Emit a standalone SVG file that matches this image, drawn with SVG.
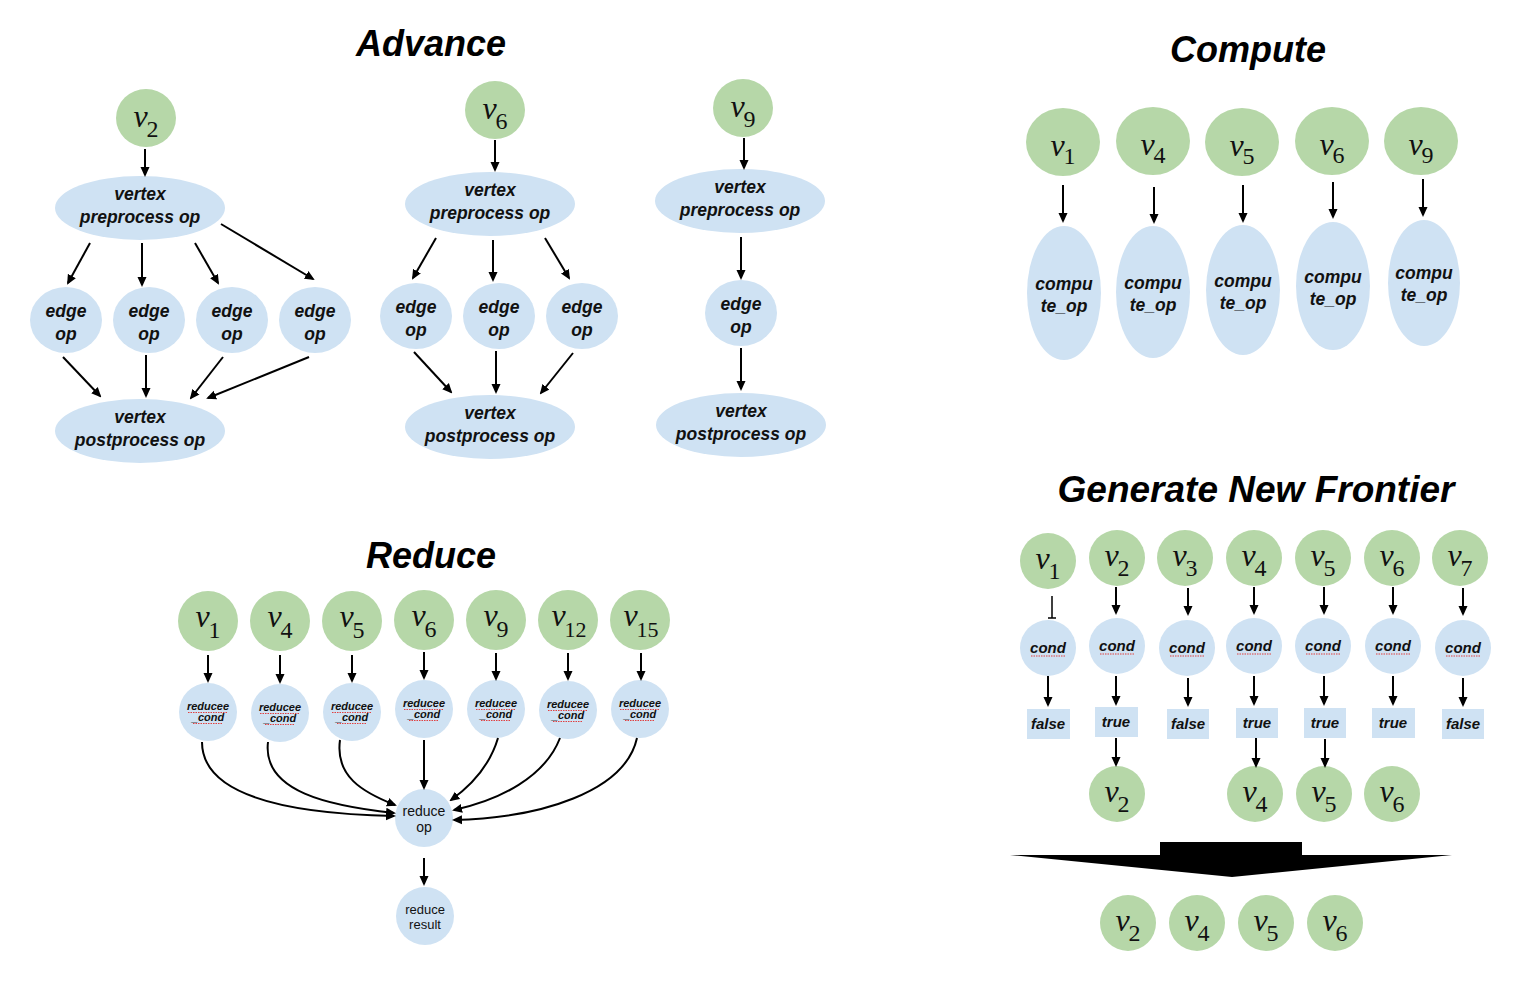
<svg xmlns="http://www.w3.org/2000/svg" width="1524" height="982" viewBox="0 0 1524 982">
<defs>
<marker id="ah" viewBox="0 0 10 10" refX="8" refY="5" markerWidth="10" markerHeight="10" markerUnits="userSpaceOnUse" orient="auto"><path d="M0,0.5 L10,5 L0,9.5 z" fill="#000"/></marker>
</defs>
<style>
.g{fill:#b6d7a8}
.b{fill:#cfe2f3}
.t{font-family:"Liberation Sans",Arial,sans-serif;font-weight:bold;font-style:italic;text-anchor:middle;fill:#111}
.ttl{font-size:36px;fill:#000}
.n18{font-size:17.5px}
.n15{font-size:15px}
.n11{font-size:11px}
.r{font-family:"Liberation Sans",Arial,sans-serif;text-anchor:middle;fill:#111}
.v{font-family:"Liberation Serif","Times New Roman",serif;font-style:italic;font-size:32px;text-anchor:middle;fill:#111}
.s{font-style:normal;font-size:24px}
.c path,.c line{stroke:#000;stroke-width:2;fill:none}
.c .a{marker-end:url(#ah)}
.sq{stroke:#e04040;stroke-width:1.2;stroke-dasharray:1.5 1;fill:none}
</style>
<rect width="1524" height="982" fill="#fff"/>

<!-- Titles -->
<text class="t ttl" x="431" y="56">Advance</text>
<text class="t ttl" x="1248" y="62">Compute</text>
<text class="t ttl" x="431" y="568">Reduce</text>
<text class="t ttl" x="1256" y="502" style="font-size:37px">Generate New Frontier</text>

<!-- ===== Advance: v2 ===== -->
<g id="adv-v2"><ellipse class="g" cx="146" cy="118" rx="30" ry="29"/><text class="v" x="146" y="127">v<tspan class="s" dx="-1" dy="10">2</tspan></text></g>
<g id="adv-v2-pre"><ellipse class="b" cx="140" cy="208" rx="85" ry="32"/><text class="t n18" x="140" y="200">vertex</text><text class="t n18" x="140" y="223">preprocess op</text></g>
<g id="adv-v2-e1"><ellipse class="b" cx="66" cy="320" rx="36" ry="33"/><text class="t n18" x="66" y="317">edge</text><text class="t n18" x="66" y="340">op</text></g>
<g id="adv-v2-e2"><ellipse class="b" cx="149" cy="320" rx="36" ry="33"/><text class="t n18" x="149" y="317">edge</text><text class="t n18" x="149" y="340">op</text></g>
<g id="adv-v2-e3"><ellipse class="b" cx="232" cy="320" rx="36" ry="33"/><text class="t n18" x="232" y="317">edge</text><text class="t n18" x="232" y="340">op</text></g>
<g id="adv-v2-e4"><ellipse class="b" cx="315" cy="320" rx="36" ry="33"/><text class="t n18" x="315" y="317">edge</text><text class="t n18" x="315" y="340">op</text></g>
<g id="adv-v2-post"><ellipse class="b" cx="140" cy="431" rx="85" ry="32"/><text class="t n18" x="140" y="423">vertex</text><text class="t n18" x="140" y="446">postprocess op</text></g>

<!-- ===== Advance: v6 ===== -->
<g id="adv-v6"><ellipse class="g" cx="495" cy="110" rx="30" ry="29"/><text class="v" x="495" y="119">v<tspan class="s" dx="-1" dy="10">6</tspan></text></g>
<g id="adv-v6-pre"><ellipse class="b" cx="490" cy="204" rx="85" ry="32"/><text class="t n18" x="490" y="196">vertex</text><text class="t n18" x="490" y="219">preprocess op</text></g>
<g id="adv-v6-e1"><ellipse class="b" cx="416" cy="316" rx="36" ry="33"/><text class="t n18" x="416" y="313">edge</text><text class="t n18" x="416" y="336">op</text></g>
<g id="adv-v6-e2"><ellipse class="b" cx="499" cy="316" rx="36" ry="33"/><text class="t n18" x="499" y="313">edge</text><text class="t n18" x="499" y="336">op</text></g>
<g id="adv-v6-e3"><ellipse class="b" cx="582" cy="316" rx="36" ry="33"/><text class="t n18" x="582" y="313">edge</text><text class="t n18" x="582" y="336">op</text></g>
<g id="adv-v6-post"><ellipse class="b" cx="490" cy="427" rx="85" ry="32"/><text class="t n18" x="490" y="419">vertex</text><text class="t n18" x="490" y="442">postprocess op</text></g>

<!-- ===== Advance: v9 ===== -->
<g id="adv-v9"><ellipse class="g" cx="743" cy="108" rx="30" ry="29"/><text class="v" x="743" y="117">v<tspan class="s" dx="-1" dy="10">9</tspan></text></g>
<g id="adv-v9-pre"><ellipse class="b" cx="740" cy="201" rx="85" ry="32"/><text class="t n18" x="740" y="193">vertex</text><text class="t n18" x="740" y="216">preprocess op</text></g>
<g id="adv-v9-e1"><ellipse class="b" cx="741" cy="313" rx="36" ry="33"/><text class="t n18" x="741" y="310">edge</text><text class="t n18" x="741" y="333">op</text></g>
<g id="adv-v9-post"><ellipse class="b" cx="741" cy="425" rx="85" ry="32"/><text class="t n18" x="741" y="417">vertex</text><text class="t n18" x="741" y="440">postprocess op</text></g>

<!-- ===== Compute ===== -->
<g id="cmp-v1"><ellipse class="g" cx="1063" cy="142" rx="37" ry="34"/><text class="v" x="1063" y="156">v<tspan class="s" dx="-1" dy="8">1</tspan></text></g>
<g id="cmp-v4"><ellipse class="g" cx="1153" cy="141" rx="37" ry="34"/><text class="v" x="1153" y="155">v<tspan class="s" dx="-1" dy="8">4</tspan></text></g>
<g id="cmp-v5"><ellipse class="g" cx="1242" cy="142" rx="37" ry="34"/><text class="v" x="1242" y="156">v<tspan class="s" dx="-1" dy="8">5</tspan></text></g>
<g id="cmp-v6"><ellipse class="g" cx="1332" cy="141" rx="37" ry="34"/><text class="v" x="1332" y="155">v<tspan class="s" dx="-1" dy="8">6</tspan></text></g>
<g id="cmp-v9"><ellipse class="g" cx="1421" cy="141" rx="37" ry="34"/><text class="v" x="1421" y="155">v<tspan class="s" dx="-1" dy="8">9</tspan></text></g>
<g id="cmp-op1"><ellipse class="b" cx="1064" cy="293" rx="37" ry="67"/><text class="t n18" x="1064" y="290">compu</text><text class="t n18" x="1064" y="312">te_op</text></g>
<g id="cmp-op4"><ellipse class="b" cx="1153" cy="292" rx="37" ry="66"/><text class="t n18" x="1153" y="289">compu</text><text class="t n18" x="1153" y="311">te_op</text></g>
<g id="cmp-op5"><ellipse class="b" cx="1243" cy="290" rx="37" ry="65"/><text class="t n18" x="1243" y="287">compu</text><text class="t n18" x="1243" y="309">te_op</text></g>
<g id="cmp-op6"><ellipse class="b" cx="1333" cy="286" rx="37" ry="64"/><text class="t n18" x="1333" y="283">compu</text><text class="t n18" x="1333" y="305">te_op</text></g>
<g id="cmp-op9"><ellipse class="b" cx="1424" cy="283" rx="36" ry="63"/><text class="t n18" x="1424" y="279">compu</text><text class="t n18" x="1424" y="301">te_op</text></g>

<!-- ===== Reduce ===== -->
<g id="red-v1"><circle class="g" cx="208" cy="621" r="30"/><text class="v" x="208" y="627">v<tspan class="s" dx="-1" dy="11">1</tspan></text></g>
<g id="red-v4"><circle class="g" cx="280" cy="621" r="30"/><text class="v" x="280" y="627">v<tspan class="s" dx="-1" dy="11">4</tspan></text></g>
<g id="red-v5"><circle class="g" cx="352" cy="621" r="30"/><text class="v" x="352" y="627">v<tspan class="s" dx="-1" dy="11">5</tspan></text></g>
<g id="red-v6"><circle class="g" cx="424" cy="620" r="30"/><text class="v" x="424" y="626">v<tspan class="s" dx="-1" dy="11">6</tspan></text></g>
<g id="red-v9"><circle class="g" cx="496" cy="620" r="30"/><text class="v" x="496" y="626">v<tspan class="s" dx="-1" dy="11">9</tspan></text></g>
<g id="red-v12"><circle class="g" cx="568" cy="620" r="30"/><text class="v" x="569" y="626">v<tspan class="s" dx="-1" dy="11" style="font-size:22px">12</tspan></text></g>
<g id="red-v15"><circle class="g" cx="640" cy="620" r="30"/><text class="v" x="641" y="626">v<tspan class="s" dx="-1" dy="11" style="font-size:22px">15</tspan></text></g>

<g id="red-c1"><circle class="b" cx="208" cy="712" r="29"/><text class="t n11" x="208" y="710">reducee</text><text class="t n11" x="208" y="721">_cond</text><path class="sq" d="M188,712.5 H228 M193,723.5 H223"/></g>
<g id="red-c4"><circle class="b" cx="280" cy="713" r="29"/><text class="t n11" x="280" y="711">reducee</text><text class="t n11" x="280" y="722">_cond</text><path class="sq" d="M260,713.5 H300 M265,724.5 H295"/></g>
<g id="red-c5"><circle class="b" cx="352" cy="712" r="29"/><text class="t n11" x="352" y="710">reducee</text><text class="t n11" x="352" y="721">_cond</text><path class="sq" d="M332,712.5 H372 M337,723.5 H367"/></g>
<g id="red-c6"><circle class="b" cx="424" cy="709" r="29"/><text class="t n11" x="424" y="707">reducee</text><text class="t n11" x="424" y="718">_cond</text><path class="sq" d="M404,709.5 H444 M409,720.5 H439"/></g>
<g id="red-c9"><circle class="b" cx="496" cy="709" r="29"/><text class="t n11" x="496" y="707">reducee</text><text class="t n11" x="496" y="718">_cond</text><path class="sq" d="M476,709.5 H516 M481,720.5 H511"/></g>
<g id="red-c12"><circle class="b" cx="568" cy="710" r="29"/><text class="t n11" x="568" y="708">reducee</text><text class="t n11" x="568" y="719">_cond</text><path class="sq" d="M548,710.5 H588 M553,721.5 H583"/></g>
<g id="red-c15"><circle class="b" cx="640" cy="709" r="29"/><text class="t n11" x="640" y="707">reducee</text><text class="t n11" x="640" y="718">_cond</text><path class="sq" d="M620,709.5 H660 M625,720.5 H655"/></g>

<g id="red-op"><circle class="b" cx="424" cy="818" r="29"/><text class="r" font-size="14" x="424" y="816">reduce</text><text class="r" font-size="14" x="424" y="832">op</text></g>
<g id="red-result"><circle class="b" cx="425" cy="916" r="29"/><text class="r" font-size="13" x="425" y="914">reduce</text><text class="r" font-size="13" x="425" y="929">result</text></g>

<!-- ===== Generate New Frontier ===== -->
<g id="gnf-v1"><circle class="g" cx="1048" cy="561" r="28"/><text class="v" x="1048" y="569">v<tspan class="s" dx="-1" dy="10">1</tspan></text></g>
<g id="gnf-v2"><circle class="g" cx="1117" cy="558" r="28"/><text class="v" x="1117" y="566">v<tspan class="s" dx="-1" dy="10">2</tspan></text></g>
<g id="gnf-v3"><circle class="g" cx="1185" cy="558" r="28"/><text class="v" x="1185" y="566">v<tspan class="s" dx="-1" dy="10">3</tspan></text></g>
<g id="gnf-v4"><circle class="g" cx="1254" cy="558" r="28"/><text class="v" x="1254" y="566">v<tspan class="s" dx="-1" dy="10">4</tspan></text></g>
<g id="gnf-v5"><circle class="g" cx="1323" cy="558" r="28"/><text class="v" x="1323" y="566">v<tspan class="s" dx="-1" dy="10">5</tspan></text></g>
<g id="gnf-v6"><circle class="g" cx="1392" cy="558" r="28"/><text class="v" x="1392" y="566">v<tspan class="s" dx="-1" dy="10">6</tspan></text></g>
<g id="gnf-v7"><circle class="g" cx="1460" cy="558" r="28"/><text class="v" x="1460" y="566">v<tspan class="s" dx="-1" dy="10">7</tspan></text></g>

<g id="gnf-c1"><circle class="b" cx="1048" cy="648" r="28"/><text class="t n15" x="1048" y="653">cond</text><path class="sq" d="M1031,656 H1065"/></g>
<g id="gnf-c2"><circle class="b" cx="1117" cy="646" r="28"/><text class="t n15" x="1117" y="651">cond</text><path class="sq" d="M1100,654 H1134"/></g>
<g id="gnf-c3"><circle class="b" cx="1187" cy="648" r="28"/><text class="t n15" x="1187" y="653">cond</text><path class="sq" d="M1170,656 H1204"/></g>
<g id="gnf-c4"><circle class="b" cx="1254" cy="646" r="28"/><text class="t n15" x="1254" y="651">cond</text><path class="sq" d="M1237,654 H1271"/></g>
<g id="gnf-c5"><circle class="b" cx="1323" cy="646" r="28"/><text class="t n15" x="1323" y="651">cond</text><path class="sq" d="M1306,654 H1340"/></g>
<g id="gnf-c6"><circle class="b" cx="1393" cy="646" r="28"/><text class="t n15" x="1393" y="651">cond</text><path class="sq" d="M1376,654 H1410"/></g>
<g id="gnf-c7"><circle class="b" cx="1463" cy="648" r="28"/><text class="t n15" x="1463" y="653">cond</text><path class="sq" d="M1446,656 H1480"/></g>

<g id="gnf-b1"><rect class="b" x="1027" y="709" width="43" height="30"/><text class="t n15" x="1048" y="729">false</text></g>
<g id="gnf-b2"><rect class="b" x="1095" y="707" width="43" height="30"/><text class="t n15" x="1116" y="727">true</text></g>
<g id="gnf-b3"><rect class="b" x="1167" y="709" width="42" height="30"/><text class="t n15" x="1188" y="729">false</text></g>
<g id="gnf-b4"><rect class="b" x="1236" y="708" width="42" height="30"/><text class="t n15" x="1257" y="728">true</text></g>
<g id="gnf-b5"><rect class="b" x="1304" y="708" width="42" height="30"/><text class="t n15" x="1325" y="728">true</text></g>
<g id="gnf-b6"><rect class="b" x="1372" y="708" width="43" height="30"/><text class="t n15" x="1393" y="728">true</text></g>
<g id="gnf-b7"><rect class="b" x="1442" y="709" width="42" height="30"/><text class="t n15" x="1463" y="729">false</text></g>

<g id="gnf-o2"><circle class="g" cx="1117" cy="794" r="28"/><text class="v" x="1117" y="802">v<tspan class="s" dx="-1" dy="10">2</tspan></text></g>
<g id="gnf-o4"><circle class="g" cx="1255" cy="794" r="28"/><text class="v" x="1255" y="802">v<tspan class="s" dx="-1" dy="10">4</tspan></text></g>
<g id="gnf-o5"><circle class="g" cx="1324" cy="794" r="28"/><text class="v" x="1324" y="802">v<tspan class="s" dx="-1" dy="10">5</tspan></text></g>
<g id="gnf-o6"><circle class="g" cx="1392" cy="794" r="28"/><text class="v" x="1392" y="802">v<tspan class="s" dx="-1" dy="10">6</tspan></text></g>

<g id="gnf-bigarrow"><polygon points="1010,855 1160,855 1160,842 1302,842 1302,855 1452,855 1232,877" fill="#000"/></g>

<g id="gnf-f2"><circle class="g" cx="1128" cy="923" r="28"/><text class="v" x="1128" y="931">v<tspan class="s" dx="-1" dy="10">2</tspan></text></g>
<g id="gnf-f4"><circle class="g" cx="1197" cy="923" r="28"/><text class="v" x="1197" y="931">v<tspan class="s" dx="-1" dy="10">4</tspan></text></g>
<g id="gnf-f5"><circle class="g" cx="1266" cy="923" r="28"/><text class="v" x="1266" y="931">v<tspan class="s" dx="-1" dy="10">5</tspan></text></g>
<g id="gnf-f6"><circle class="g" cx="1335" cy="923" r="28"/><text class="v" x="1335" y="931">v<tspan class="s" dx="-1" dy="10">6</tspan></text></g>

<!-- ===== Connectors ===== -->
<g id="connectors" class="c">
<!-- Advance v2 -->
<path class="a" d="M145,149 L145,175"/>
<path class="a" d="M90,243 L68,283"/>
<path class="a" d="M142,243 L142,285"/>
<path class="a" d="M195,243 L218,283"/>
<path class="a" d="M221,224 L313,279"/>
<path class="a" d="M63,357 L100,396"/>
<path class="a" d="M146,355 L146,396"/>
<path class="a" d="M223,357 L191,398"/>
<path class="a" d="M309,357 L208,398"/>
<!-- Advance v6 -->
<path class="a" d="M495,140 L495,170"/>
<path class="a" d="M436,238 L413,278"/>
<path class="a" d="M493,240 L493,280"/>
<path class="a" d="M545,238 L569,278"/>
<path class="a" d="M414,352 L451,392"/>
<path class="a" d="M496,351 L496,392"/>
<path class="a" d="M573,353 L541,393"/>
<!-- Advance v9 -->
<path class="a" d="M744,138 L744,168"/>
<path class="a" d="M741,237 L741,278"/>
<path class="a" d="M741,348 L741,389"/>
<!-- Compute -->
<path class="a" d="M1063,185 L1063,221"/>
<path class="a" d="M1154,187 L1154,222"/>
<path class="a" d="M1243,185 L1243,221"/>
<path class="a" d="M1333,182 L1333,217"/>
<path class="a" d="M1423,179 L1423,215"/>
<!-- Reduce -->
<path class="a" d="M208,655 L208,681"/>
<path class="a" d="M280,655 L280,682"/>
<path class="a" d="M352,655 L352,681"/>
<path class="a" d="M424,652 L424,678"/>
<path class="a" d="M496,653 L496,679"/>
<path class="a" d="M568,653 L568,679"/>
<path class="a" d="M641,653 L641,679"/>
<path class="a" d="M202,742 C202,800 300,814 394,816"/>
<path class="a" d="M268,742 C262,792 330,806 394,813"/>
<path class="a" d="M340,740 C335,776 362,792 395,805"/>
<path class="a" d="M424,740 L424,788"/>
<path class="a" d="M498,738 C490,765 472,785 451,800"/>
<path class="a" d="M560,738 C545,777 500,800 454,810"/>
<path class="a" d="M637,738 C625,792 540,818 454,820"/>
<path class="a" d="M424,858 L424,884"/>
<!-- GNF -->
<path d="M1052,596 L1052,618 M1048,618 L1056,618" style="stroke-width:1.5"/>
<path class="a" d="M1116,587 L1116,613"/>
<path class="a" d="M1188,588 L1188,614"/>
<path class="a" d="M1254,587 L1254,613"/>
<path class="a" d="M1324,587 L1324,613"/>
<path class="a" d="M1393,587 L1393,613"/>
<path class="a" d="M1463,588 L1463,614"/>
<path class="a" d="M1048,676 L1048,705"/>
<path class="a" d="M1116,676 L1116,704"/>
<path class="a" d="M1188,678 L1188,705"/>
<path class="a" d="M1254,676 L1254,704"/>
<path class="a" d="M1324,676 L1324,704"/>
<path class="a" d="M1393,676 L1393,704"/>
<path class="a" d="M1463,678 L1463,705"/>
<path class="a" d="M1116,738 L1116,765"/>
<path class="a" d="M1256,738 L1256,766"/>
<path class="a" d="M1325,739 L1325,766"/>
</g>
</svg>
